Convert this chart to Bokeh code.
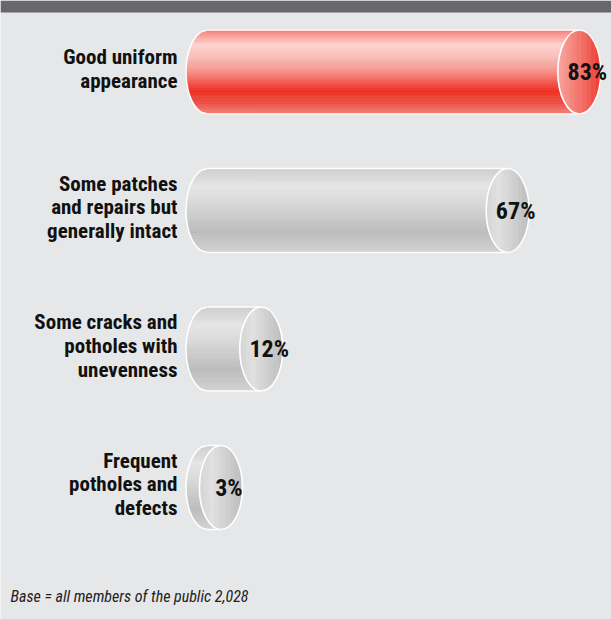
import numpy as np
from bokeh.plotting import figure
from bokeh.models import Range1d, BoxAnnotation, Label
from bokeh.core.properties import value
from bokeh.embed import file_html
from bokeh.resources import INLINE

# ---- data ----
categories = [
    "Good uniform\nappearance",
    "Some patches\nand repairs but\ngenerally intact",
    "Some cracks and\npotholes with\nunevenness",
    "Frequent\npotholes and\ndefects",
]
values = [83, 67, 12, 3]
value_labels = ["83%", "67%", "12%", "3%"]
highlight = [True, False, False, False]
footnote = "Base = all members of the public 2,028"

# ---- layout / style ----
W, H = 611, 619
PX_PER_PCT = 4.48
ZERO_PX = 207
ROW_PX = 138.5
FIRST_ROW_PX = 71.5
n = len(values)
ys = [n - 1 - i for i in range(n)]

x_range = Range1d(-ZERO_PX / PX_PER_PCT, (W - ZERO_PX) / PX_PER_PCT)
y_top = (n - 1) + FIRST_ROW_PX / ROW_PX
y_range = Range1d(y_top - H / ROW_PX, y_top)

HW = 21.5 / PX_PER_PCT   # half width of cylinder end (data units)
HH = 42.0 / ROW_PX       # half height of cylinder (data units)

FONT_STR = "'Roboto Condensed', 'DejaVu Sans Condensed', sans-serif"
FONT = value(FONT_STR)
BG = "#e6e7e8"


def hex2rgb(h):
    h = h.lstrip("#")
    return np.array([int(h[i:i + 2], 16) for i in (0, 2, 4)], dtype=float)


def interp(stops, t):
    for (t0, c0), (t1, c1) in zip(stops[:-1], stops[1:]):
        if t <= t1:
            f = 0 if t1 == t0 else (t - t0) / (t1 - t0)
            c = hex2rgb(c0) * (1 - f) + hex2rgb(c1) * f
            return "#%02x%02x%02x" % tuple(int(round(v)) for v in c)
    return stops[-1][1]


red_body = [(0, "#f47d75"), (0.18, "#fdd4d0"), (0.32, "#fbbfba"), (0.5, "#f6928a"),
            (0.72, "#ee3124"), (0.86, "#f0493e"), (1, "#f57f77")]
gray_body = [(0, "#cdcdcd"), (0.22, "#e5e5e5"), (0.4, "#dadada"), (0.75, "#bcbcbc"),
             (0.9, "#c9c9c9"), (1, "#d2d2d2")]
red_face = [(0, "#f8aaa4"), (0.5, "#f3766d"), (1, "#ee3a2f")]
gray_face = [(0, "#d4d4d4"), (0.3, "#e2e2e2"), (1, "#bcbcbc")]

p = figure(width=W, height=H, x_range=x_range, y_range=y_range,
           output_backend="svg", toolbar_location=None, min_border=0)
p.axis.visible = False
p.grid.visible = False
p.outline_line_color = None
p.background_fill_color = BG
p.border_fill_color = BG

# top dark band
p.add_layout(BoxAnnotation(bottom=y_top - 12 / ROW_PX, fill_color="#68686c",
                           fill_alpha=1, line_color=None))

NS = 44
NF = 34
for val, yc, hi in zip(values, ys, highlight):
    body_stops = red_body if hi else gray_body
    face_stops = red_face if hi else gray_face
    # body stripes (horizontal)
    bxs, bys, bcols = [], [], []
    for k in range(NS):
        va = 1 - 2 * k / NS
        vb = 1 - 2 * (k + 1) / NS
        vv = np.linspace(va, vb, 5)
        lx = list(-HW * np.sqrt(np.clip(1 - vv ** 2, 0, 1)))
        ly = list(yc + HH * vv)
        bxs.append(lx + [val, val])
        bys.append(ly + [yc + HH * vb, yc + HH * va])
        bcols.append(interp(body_stops, (k + 0.5) / NS))
    p.patches(bxs, bys, fill_color=bcols, line_color=bcols, line_width=0.6)
    # body outline
    arc_v = np.linspace(-1, 1, 60)
    p.multi_line(
        [[0, val], [0, val], list(-HW * np.sqrt(1 - arc_v ** 2))],
        [[yc + HH, yc + HH], [yc - HH, yc - HH], list(yc + HH * arc_v)],
        line_color="white", line_width=1.6)
    # front face stripes (vertical)
    fxs, fys, fcols = [], [], []
    for k in range(NF):
        sa = -1 + 2 * k / NF
        sb = -1 + 2 * (k + 1) / NF
        ss = np.linspace(sa, sb, 5)
        hh = HH * np.sqrt(np.clip(1 - ss ** 2, 0, 1))
        fxs.append(list(val + HW * ss) + list(val + HW * ss[::-1]))
        fys.append(list(yc + hh) + list(yc - hh[::-1]))
        fcols.append(interp(face_stops, (k + 0.5) / NF))
    p.patches(fxs, fys, fill_color=fcols, line_color=fcols, line_width=0.6)
    p.ellipse(x=[val], y=[yc], width=[2 * HW], height=[2 * HH], fill_color=None,
              line_color="white", line_width=1.6)

# category labels
p.text(x=[0] * n, y=ys, text=categories, text_align="right", text_baseline="middle",
       x_offset=-30, y_offset=-3, text_font=FONT, text_font_style="bold",
       text_font_size="21px", text_line_height=0.98, text_color="#111111")

# value labels
p.text(x=values, y=ys, text=value_labels, text_align="center", text_baseline="middle",
       x_offset=8, text_font=FONT, text_font_style="bold", text_font_size="24px",
       text_color="#111111")

p.add_layout(Label(x=10, y=23, x_units="screen", y_units="screen", text=footnote,
                   text_font=FONT_STR, text_font_style="italic", text_font_size="16px",
                   text_color="#222222", text_baseline="alphabetic"))

open("out.html", "w").write(file_html(p, INLINE))
